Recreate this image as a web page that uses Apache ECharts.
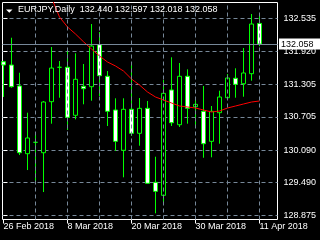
<!DOCTYPE html>
<html><head><meta charset="utf-8">
<script src="https://cdn.jsdelivr.net/npm/echarts@6/dist/echarts.min.js"></script>
<style>html,body{margin:0;padding:0;background:#000;}#c{width:320px;height:240px;}</style>
</head><body><div id="c"></div>
<script>
const symbol = 'EURJPY';
const timeframe = 'Daily';
const dates = ['2018-02-26','2018-02-27','2018-02-28','2018-03-01','2018-03-02',
  '2018-03-05','2018-03-06','2018-03-07','2018-03-08','2018-03-09',
  '2018-03-12','2018-03-13','2018-03-14','2018-03-15','2018-03-16',
  '2018-03-19','2018-03-20','2018-03-21','2018-03-22','2018-03-23',
  '2018-03-26','2018-03-27','2018-03-28','2018-03-29','2018-03-30',
  '2018-04-02','2018-04-03','2018-04-04','2018-04-05','2018-04-06',
  '2018-04-09','2018-04-10','2018-04-11'];
const open  = [131.730,131.669,131.280,130.025,130.236,130.043,130.989,131.627,131.627,130.737,131.274,131.267,132.046,131.460,130.835,130.088,130.848,130.403,130.866,129.494,129.253,131.206,130.562,131.460,130.896,130.811,130.254,130.785,131.063,131.423,131.322,131.508,132.440];
const high  = [131.745,132.175,131.526,130.785,130.414,131.002,132.003,131.743,131.960,131.886,131.688,132.429,132.281,131.558,131.052,131.052,131.719,131.057,131.002,129.969,131.391,131.812,131.706,131.589,131.070,131.280,130.909,131.193,131.502,131.608,131.984,132.615,132.597];
const low   = [131.076,131.248,130.000,129.722,129.518,129.314,130.581,131.063,130.464,130.662,130.941,131.007,131.094,130.538,130.075,129.587,130.353,130.173,129.470,128.920,129.129,130.538,130.520,130.581,130.520,129.950,129.958,130.210,131.020,131.063,131.081,131.378,132.018];
const close = [131.670,131.267,130.043,130.316,130.236,130.983,131.613,131.627,130.699,131.404,131.230,132.021,131.471,130.811,130.254,130.848,130.403,130.866,129.476,129.327,131.144,130.599,131.460,130.866,130.940,130.210,130.811,131.076,131.428,131.311,131.521,132.429,132.058];
const maStart = 6;
const maValues = [132.917,132.559,132.374,132.244,132.100,131.966,131.836,131.725,131.651,131.558,131.410,131.298,131.169,131.076,131.020,130.965,130.909,130.891,130.872,130.835,130.798,130.816,130.872,130.909,130.946,130.983,131.002];
const priceTicks = [132.535, 131.920, 131.305, 130.705, 130.090, 129.490, 128.875];
const dateTickIdx = [0, 8, 16, 24, 32];
const gridLineIdx = [4, 8, 12, 16, 20, 24, 28, 32];
const monthNames = ['Jan','Feb','Mar','Apr','May','Jun','Jul','Aug','Sep','Oct','Nov','Dec'];

const FONT = 'Liberation Sans';
const GRIDC = '#778899';
const LIME = '#00ff00';

function fmtDate(s) {
  const p = s.split('-');
  return (+p[2]) + ' ' + monthNames[+p[1] - 1] + ' ' + p[0];
}
const last = dates.length - 1;
const candles = dates.map((d, i) => [i, open[i], close[i], low[i], high[i]]);
const maData = maValues.map((v, k) => [maStart + k, v]);
const titleText = symbol + ',' + timeframe + '  ' +
  [open[last], high[last], low[last], close[last]].map(v => v.toFixed(3)).join(' ');

const chart = echarts.init(document.getElementById('c'), null, {renderer: 'canvas'});
chart.setOption({
  backgroundColor: '#000',
  animation: false,
  textStyle: {fontFamily: FONT},
  title: {
    text: titleText, left: 18, top: 5, padding: 0,
    textStyle: {color: '#fff', fontSize: 9, fontWeight: 'normal', fontFamily: FONT}
  },
  graphic: [{
    type: 'polygon', shape: {points: [[6, 9.5], [12.5, 9.5], [9.25, 12.8]]},
    style: {fill: '#fff'}, silent: true
  }],
  grid: {
    left: 2.5, right: 42.5, top: 2.5, bottom: 20.5,
    show: true, borderColor: '#fff', borderWidth: 1, backgroundColor: 'transparent',
    containLabel: false, outerBoundsMode: 'none'
  },
  xAxis: {
    type: 'value', min: -0.125, max: 34.25,
    axisLine: {show: false},
    axisTick: {show: true, length: 4, lineStyle: {color: '#fff'}, customValues: dateTickIdx},
    axisLabel: {show: true, customValues: dateTickIdx, formatter: v => fmtDate(dates[Math.round(v)]),
      color: '#fff', fontSize: 9, fontFamily: FONT, align: 'left', margin: 3},
    splitLine: {show: false}
  },
  yAxis: {
    type: 'value', position: 'right', min: 128.805, max: 132.828, scale: true,
    axisLine: {show: false},
    axisTick: {show: true, length: 4, lineStyle: {color: '#fff'}, customValues: priceTicks},
    axisLabel: {show: true, customValues: priceTicks, formatter: v => v.toFixed(3),
      color: '#fff', fontSize: 9, fontFamily: FONT, margin: 6},
    splitLine: {show: true, lineStyle: {color: GRIDC, type: [4, 3], width: 1}}
  },
  series: [
    {
      type: 'line', data: [], z: 1, silent: true,
      markLine: {
        symbol: ['none', 'none'], silent: true, animation: false, precision: 3,
        data: gridLineIdx.map(i => ({xAxis: i, lineStyle: {color: GRIDC, type: [4, 3], width: 1}, label: {show: false}}))
          .concat([{
            yAxis: close[last],
            lineStyle: {color: GRIDC, type: 'solid', width: 1},
            label: {show: true, position: 'end', distance: 1.5, formatter: () => close[last].toFixed(3),
              color: '#000', backgroundColor: '#fff', fontSize: 9, fontFamily: FONT,
              padding: [1, 8, 1, 2], lineHeight: 9}
          }])
      }
    },
    {
      type: 'candlestick', data: candles, z: 2,
      encode: {x: 0, y: [1, 2, 3, 4]},
      barWidth: 4,
      itemStyle: {
        color: '#000000', color0: '#ffffff',
        borderColor: LIME, borderColor0: LIME, borderColorDoji: LIME, borderWidth: 1
      }
    },
    {
      type: 'line', data: maData, z: 3, showSymbol: false, symbol: 'none', silent: true,
      lineStyle: {color: '#ff0000', width: 1}
    }
  ]
});
</script>
</body></html>
